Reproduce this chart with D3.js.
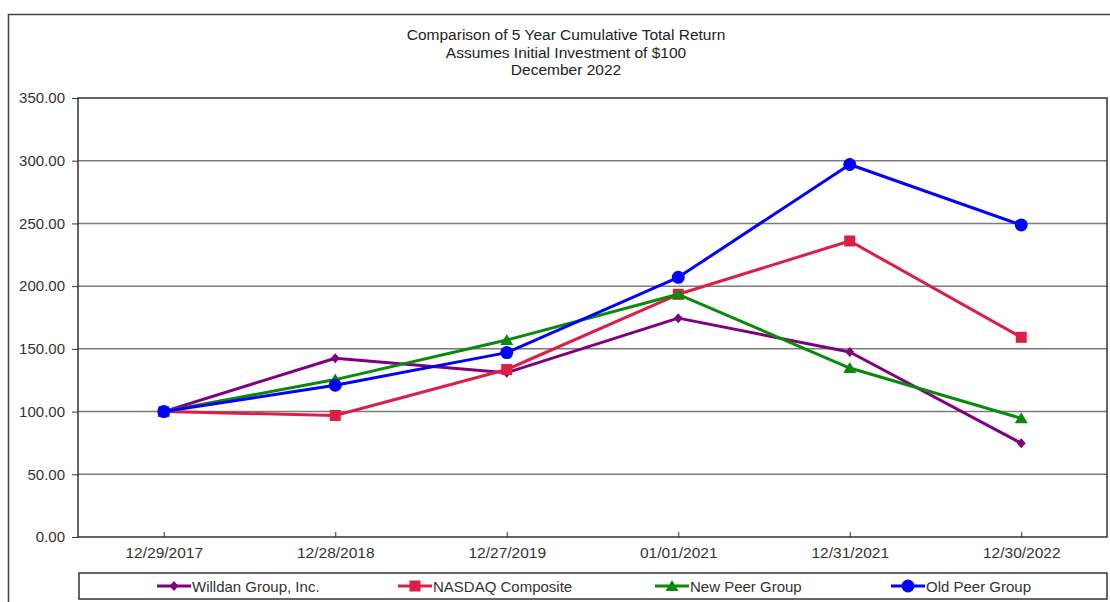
<!DOCTYPE html>
<html>
<head>
<meta charset="utf-8">
<script src="https://cdn.jsdelivr.net/npm/d3@7"></script>
<style>
  body { margin: 0; background: #fff; }
  svg { display: block; font-family: "Liberation Sans", Arial, sans-serif; }
</style>
</head>
<body>
<svg id="grafico"></svg>
<script>
// dados
const datas = ['12/29/2017', '12/28/2018', '12/27/2019', '01/01/2021', '12/31/2021', '12/30/2022'];
const willdan = [100, 142.5, 131, 174.5, 147.5, 74.8];
const nasdaq = [100, 96.9, 133.5, 193.5, 236, 159.2];
const novoPares = [100, 125.5, 157, 193.5, 134.7, 94.6];
const antigoPares = [100, 121, 147, 207, 297, 248.8];
const ticksY = [0, 50, 100, 150, 200, 250, 300, 350];
const titulos = ['Comparison of 5 Year Cumulative Total Return', 'Assumes Initial Investment of $100', 'December 2022'];

const series = [
    { nome: 'Willdan Group, Inc.', valores: willdan, cor: '#800080', marca: 'diamante' },
    { nome: 'NASDAQ Composite', valores: nasdaq, cor: '#dc1f46', marca: 'quadrado' },
    { nome: 'New Peer Group', valores: novoPares, cor: '#0a8a0a', marca: 'triangulo' },
    { nome: 'Old Peer Group', valores: antigoPares, cor: '#0000ff', marca: 'circulo' }
];

const largura = 1110, altura = 602;
const margem = { esquerda: 78, direita: 1107, superior: 98, inferior: 537 };
const fonte = '"Liberation Sans", Arial, sans-serif';

const svg = d3.select('#grafico').attr('width', largura).attr('height', altura);

// moldura externa
svg.append('rect')
    .attr('x', 8.5).attr('y', 14.5)
    .attr('width', largura + 20).attr('height', altura + 20)
    .attr('fill', 'none').attr('stroke', '#444').attr('stroke-width', 1.5);

// titulo
svg.selectAll('.titulo').data(titulos).enter().append('text')
    .classed('titulo', true)
    .attr('x', 566)
    .attr('y', (d, i) => 40 + i * 17.5)
    .attr('text-anchor', 'middle')
    .attr('font-size', 15.5)
    .attr('fill', '#222')
    .text(d => d);

const fnX = d3.scalePoint()
    .domain(datas)
    .range([margem.esquerda, margem.direita])
    .padding(0.5);

const fnY = d3.scaleLinear()
    .domain([0, 350])
    .range([margem.inferior, margem.superior]);

// grade
svg.append('g')
    .selectAll('line').data(ticksY.filter(t => t > 0 && t < 350)).enter().append('line')
    .attr('x1', margem.esquerda).attr('x2', margem.direita)
    .attr('y1', d => fnY(d)).attr('y2', d => fnY(d))
    .attr('stroke', '#7a7a7a').attr('stroke-width', 1.5);

// borda da plotagem
svg.append('rect')
    .attr('x', margem.esquerda).attr('y', margem.superior)
    .attr('width', margem.direita - margem.esquerda)
    .attr('height', margem.inferior - margem.superior)
    .attr('fill', 'none').attr('stroke', '#333').attr('stroke-width', 1.5);

// eixo Y
const eixoY = d3.axisLeft(fnY).tickValues(ticksY).tickFormat(d3.format('.2f')).tickSize(6).tickPadding(7);
svg.append('g')
    .attr('transform', 'translate(' + margem.esquerda + ',0)')
    .call(eixoY)
    .call(g => g.select('.domain').remove())
    .call(g => g.selectAll('line').attr('stroke', '#333'))
    .call(g => g.selectAll('text').attr('font-size', 15).attr('fill', '#333').attr('font-family', fonte));

// eixo X
const eixoX = d3.axisBottom(fnX).tickSize(-5).tickPadding(10);
svg.append('g')
    .attr('transform', 'translate(0,' + margem.inferior + ')')
    .call(eixoX)
    .call(g => g.select('.domain').remove())
    .call(g => g.selectAll('line').attr('stroke', '#333'))
    .call(g => g.selectAll('text').attr('font-size', 15.5).attr('fill', '#333').attr('font-family', fonte));

function desenheMarca(g, tipo, cor) {
    if (tipo === 'circulo') {
        g.append('circle').attr('r', 6.5).attr('fill', cor);
    } else if (tipo === 'quadrado') {
        g.append('rect').attr('x', -5.5).attr('y', -5.5).attr('width', 11).attr('height', 11).attr('fill', cor);
    } else if (tipo === 'triangulo') {
        g.append('path').attr('d', 'M0,-6L6.5,5L-6.5,5Z').attr('fill', cor);
    } else {
        g.append('path').attr('d', 'M0,-5L4.5,0L0,5L-4.5,0Z').attr('fill', cor);
    }
}

const linha = d3.line().x((d, i) => fnX(datas[i])).y(d => fnY(d));

series.forEach(s => {
    const g = svg.append('g');
    g.append('path')
        .attr('d', linha(s.valores))
        .attr('fill', 'none')
        .attr('stroke', s.cor)
        .attr('stroke-width', 3)
        .attr('stroke-linejoin', 'round');
    s.valores.forEach((v, i) => {
        const m = g.append('g').attr('transform', 'translate(' + fnX(datas[i]) + ',' + fnY(v) + ')');
        desenheMarca(m, s.marca, s.cor);
    });
});

// legenda
svg.append('rect')
    .attr('x', 79).attr('y', 573)
    .attr('width', 1028).attr('height', 26)
    .attr('fill', '#fff').attr('stroke', '#333').attr('stroke-width', 1.5);

const posLegenda = [157, 398, 655, 891];
series.forEach((s, i) => {
    const g = svg.append('g').attr('transform', 'translate(' + posLegenda[i] + ',586)');
    g.append('line').attr('x1', 0).attr('x2', 34).attr('stroke', s.cor).attr('stroke-width', 3);
    const m = g.append('g').attr('transform', 'translate(17,0)');
    desenheMarca(m, s.marca, s.cor);
    g.append('text')
        .attr('x', 35).attr('y', 5.5)
        .attr('font-size', 15)
        .attr('fill', '#333')
        .text(s.nome);
});
</script>
</body>
</html>
